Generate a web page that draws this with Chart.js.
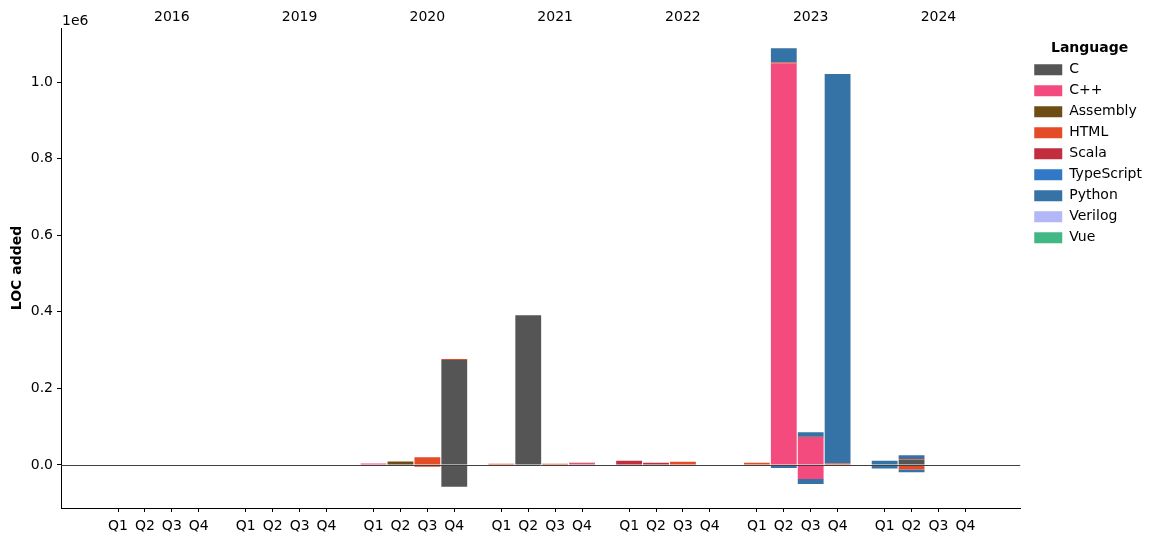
<!DOCTYPE html>
<html>
<head>
<meta charset="utf-8">
<script src="https://cdn.jsdelivr.net/npm/chart.js@4.4.0/dist/chart.umd.min.js"></script>
<style>
  html, body { margin: 0; padding: 0; background: #fff; }
</style>
</head>
<body>
<canvas id="chart" width="1160" height="542"></canvas>
<script>
const years = ['2016', '2019', '2020', '2021', '2022', '2023', '2024'];
const quarters = ['Q1', 'Q2', 'Q3', 'Q4'];
const languages = ['C', 'C++', 'Assembly', 'HTML', 'Scala', 'TypeScript', 'Python', 'Verilog', 'Vue'];
const langColors = ['#555555', '#f34b7d', '#6e4c13', '#e34c26', '#c22d40', '#3178c6', '#3572a5', '#b2b7f8', '#41b883'];

// LOC per quarter, 2016 Q1 .. 2024 Q4 (one row per year)
const addedC = [
  0, 0, 0, 0,
  0, 0, 0, 0,
  0, 0, 0, 274000,
  0, 391000, 0, 0,
  0, 0, 0, 0,
  0, 0, 0, 0,
  0, 13000, 0, 0];
const removedC = [
  0, 0, 0, 0,
  0, 0, 0, 0,
  0, 0, 0, -57000,
  0, 0, 0, 0,
  0, 0, 0, 0,
  0, 0, 0, 0,
  0, 0, 0, 0];
const addedCpp = [
  0, 0, 0, 0,
  0, 0, 0, 0,
  4000, 0, 0, 0,
  0, 0, 0, 3500,
  0, 0, 0, 0,
  0, 1048000, 71000, 0,
  0, 0, 0, 0];
const removedCpp = [
  0, 0, 0, 0,
  0, 0, 0, 0,
  0, 0, 0, 0,
  0, 0, 0, 0,
  0, 0, 0, 0,
  0, 0, -36500, 0,
  0, 0, 0, 0];
const addedAsm = [
  0, 0, 0, 0,
  0, 0, 0, 0,
  0, 9000, 0, 0,
  0, 0, 0, 0,
  0, 0, 0, 0,
  0, 0, 0, 0,
  0, 0, 0, 0];
const removedAsm = [
  0, 0, 0, 0,
  0, 0, 0, 0,
  0, 0, 0, 0,
  0, 0, 0, 0,
  0, 0, 0, 0,
  0, 0, 0, 0,
  0, 0, 0, 0];
const addedHtml = [
  0, 0, 0, 0,
  0, 0, 0, 0,
  0, 0, 20000, 2600,
  3000, 0, 3000, 0,
  0, 0, 8500, 0,
  6000, 2600, 0, 4000,
  0, 1800, 0, 0];
const removedHtml = [
  0, 0, 0, 0,
  0, 0, 0, 0,
  0, 0, -4500, 0,
  0, 0, 0, 0,
  0, 0, 0, 0,
  0, 0, 0, 0,
  0, -12000, 0, 0];
const addedScala = [
  0, 0, 0, 0,
  0, 0, 0, 0,
  0, 0, 0, 0,
  0, 0, 0, 2600,
  11000, 6000, 0, 0,
  0, 0, 2600, 0,
  0, 0, 0, 0];
const removedScala = [
  0, 0, 0, 0,
  0, 0, 0, 0,
  0, 0, 0, 0,
  0, 0, 0, 0,
  0, 0, 0, 0,
  0, 0, 0, 0,
  0, 0, 0, 0];
const addedTs = [
  0, 0, 0, 0,
  0, 0, 0, 0,
  0, 0, 0, 0,
  0, 0, 0, 0,
  0, 0, 0, 0,
  0, 0, 0, 0,
  0, 0, 0, 0];
const removedTs = [
  0, 0, 0, 0,
  0, 0, 0, 0,
  0, 0, 0, 0,
  0, 0, 0, 0,
  0, 0, 0, 0,
  0, 0, 0, 0,
  0, 0, 0, 0];
const addedPython = [
  0, 0, 0, 0,
  0, 0, 0, 0,
  0, 0, 0, 0,
  0, 0, 0, 0,
  0, 0, 0, 0,
  0, 37400, 12000, 1017000,
  11000, 10500, 0, 0];
const removedPython = [
  0, 0, 0, 0,
  0, 0, 0, 0,
  0, 0, 0, 0,
  0, 0, 0, 0,
  0, 0, 0, 0,
  0, -8000, -13000, 0,
  -9000, -7000, 0, 0];
const addedVerilog = [
  0, 0, 0, 0,
  0, 0, 0, 0,
  0, 0, 0, 0,
  0, 0, 0, 0,
  0, 0, 0, 0,
  0, 0, 0, 0,
  0, 0, 0, 0];
const removedVerilog = addedVerilog.slice();
const addedVue = [
  0, 0, 0, 0,
  0, 0, 0, 0,
  0, 0, 0, 0,
  0, 0, 0, 0,
  0, 0, 0, 0,
  0, 0, 0, 0,
  0, 0, 0, 0];
const removedVue = addedVue.slice();

const yTicks = [0, 200000, 400000, 600000, 800000, 1000000];

const added = [addedC, addedCpp, addedAsm, addedHtml, addedScala, addedTs, addedPython, addedVerilog, addedVue];
const removed = [removedC, removedCpp, removedAsm, removedHtml, removedScala, removedTs, removedPython, removedVerilog, removedVue];

// bar slot: quarters are 1 unit apart, years are separated by an extra gap
const yearStep = 4.75;
const slotOf = i => Math.floor(i / 4) * yearStep + (i % 4);
const slots = addedC.map((_, i) => slotOf(i));
const xMin = -2.12, xMax = 33.54;

const datasets = [];
languages.forEach((lang, k) => {
  datasets.push({
    label: lang,
    data: added[k].map((v, i) => ({ x: slots[i], y: v })),
    backgroundColor: langColors[k],
    stack: 'loc'
  });
  datasets.push({
    label: lang + ' removed',
    data: removed[k].map((v, i) => ({ x: slots[i], y: v })),
    backgroundColor: langColors[k],
    stack: 'loc'
  });
});

const overlay = {
  id: 'overlay',
  afterDatasetsDraw(chart) {
    const { ctx, chartArea, scales } = chart;
    const y0 = Math.round(scales.y.getPixelForValue(0)) + 0.5;
    ctx.save();
    ctx.strokeStyle = '#404040';
    ctx.lineWidth = 1;
    ctx.beginPath();
    ctx.moveTo(chartArea.left, y0);
    ctx.lineTo(chartArea.right, y0);
    ctx.stroke();
    ctx.fillStyle = '#000';
    ctx.font = '14px "DejaVu Sans"';
    ctx.textAlign = 'left';
    ctx.textBaseline = 'bottom';
    ctx.fillText('1e6', chartArea.left + 1, chartArea.top);
    ctx.restore();
  }
};

Chart.defaults.font.family = '"DejaVu Sans", sans-serif';
Chart.defaults.font.size = 14;
Chart.defaults.color = '#000';

new Chart(document.getElementById('chart'), {
  type: 'bar',
  data: { datasets },
  plugins: [overlay],
  options: {
    responsive: false,
    animation: false,
    layout: { padding: { left: 5, right: 8, top: 0, bottom: 0 } },
    datasets: { bar: { barPercentage: 0.96, categoryPercentage: 1.0, borderWidth: 0 } },
    scales: {
      x: {
        type: 'linear',
        stacked: true,
        offset: false,
        min: xMin,
        max: xMax,
        afterBuildTicks: s => { s.ticks = slots.map(v => ({ value: v })); },
        ticks: { autoSkip: false, maxRotation: 0, padding: 6, callback: (v, i) => quarters[i % 4] },
        grid: { offset: false, drawOnChartArea: false, tickLength: 4, color: '#000' },
        border: { color: '#000', width: 1 },
        afterFit: s => { s.height = 34; }
      },
      xTop: {
        type: 'linear',
        position: 'top',
        offset: false,
        min: xMin,
        max: xMax,
        afterBuildTicks: s => { s.ticks = years.map((y, i) => ({ value: i * yearStep + 2 })); },
        ticks: { autoSkip: false, maxRotation: 0, padding: 2, callback: (v, i) => years[i] },
        grid: { display: false, drawTicks: false, offset: false },
        border: { display: false },
        afterFit: s => { s.height = 28; }
      },
      y: {
        stacked: true,
        min: -112300,
        max: 1141000,
        afterBuildTicks: s => { s.ticks = yTicks.map(v => ({ value: v })); },
        ticks: { padding: 4, callback: v => (v / 1e6).toFixed(1) },
        grid: { drawOnChartArea: false, tickLength: 4, color: '#000' },
        border: { color: '#000', width: 1 },
        title: { display: true, text: 'LOC added', font: { weight: 'bold', size: 14 }, padding: { top: 4, bottom: 4 } },
        afterFit: s => { s.width = 56; }
      },
      // empty spacer between the plot and the legend
      gap: {
        type: 'linear',
        position: 'right',
        display: true,
        ticks: { display: false },
        grid: { display: false, drawTicks: false },
        border: { display: false },
        afterFit: s => { s.width = 7; }
      }
    },
    plugins: {
      tooltip: { enabled: false },
      legend: {
        position: 'right',
        align: 'start',
        title: { display: true, text: 'Language', font: { weight: 'bold', size: 14 }, padding: { top: 41, bottom: -2 } },
        labels: {
          boxWidth: 28,
          boxHeight: 11,
          padding: 7,
          font: { size: 14 },
          filter: item => item.datasetIndex % 2 === 0
        }
      }
    }
  }
});
</script>
</body>
</html>
